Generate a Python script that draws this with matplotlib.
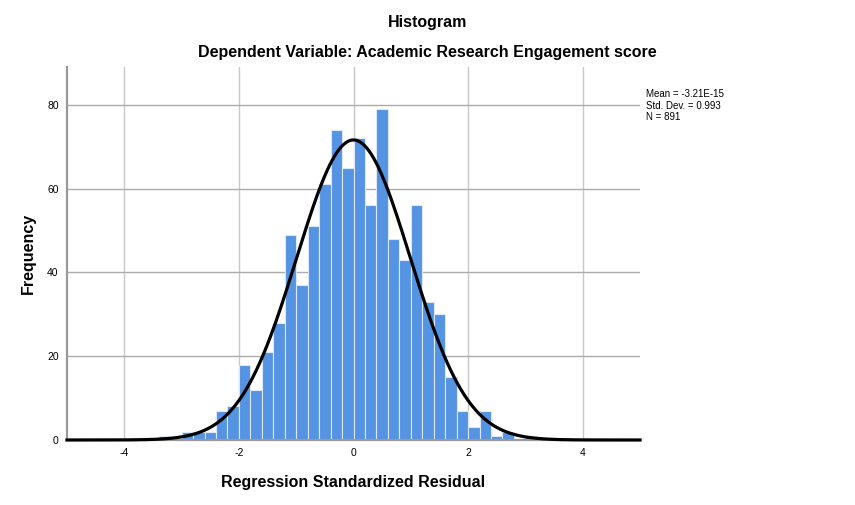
import matplotlib
matplotlib.use('Agg')
import matplotlib.pyplot as plt
import numpy as np

# SPSS-style residual histogram: bins of width 0.2
bin_width = 0.2
bin_left = [-3.4, -3.2, -3.0, -2.8, -2.6, -2.4, -2.2, -2.0, -1.8, -1.6, -1.4,
            -1.2, -1.0, -0.8, -0.6, -0.4, -0.2, 0.0, 0.2, 0.4, 0.6, 0.8, 1.0,
            1.2, 1.4, 1.6, 1.8, 2.0, 2.2, 2.4, 2.6, 2.8, 3.0]
counts = [1, 0, 2, 2, 2, 7, 8, 18, 12, 21, 28,
          49, 37, 51, 61, 74, 65, 72, 56, 79, 48, 43, 56,
          33, 30, 15, 7, 3, 7, 1, 2, 0, 1]

mean = -3.21e-15
std = 0.993
n = 891

x_ticks = [-4, -2, 0, 2, 4]
y_ticks = [0, 20, 40, 60, 80]

plt.rcParams['font.family'] = ['Liberation Sans', 'DejaVu Sans']
plt.rcParams['axes.unicode_minus'] = False

fig = plt.figure(figsize=(8.55, 5.05), dpi=100)
ax = fig.add_axes([67 / 855, 1 - 440 / 505, (640 - 67) / 855, (440 - 67) / 505])

ax.bar(bin_left, counts, width=bin_width, align='edge', color='#5593e3',
       edgecolor='#dce8f8', linewidth=0.8, zorder=2)

# fitted normal curve scaled to counts
xs = np.linspace(-5, 5, 500)
ys = n * bin_width / (std * np.sqrt(2 * np.pi)) * np.exp(-0.5 * ((xs - mean) / std) ** 2)
ax.plot(xs, ys, color='black', linewidth=2.3, zorder=3, clip_on=False)

ax.set_xlim(-5, 5)
ax.set_ylim(0, 89)
ax.set_xticks(x_ticks)
ax.set_yticks(y_ticks)
ax.tick_params(length=0, labelsize=7.5, pad=6)

ax.grid(False)
for xt in x_ticks:
    ax.axvline(xt, color='#c8c8c8', linewidth=1, zorder=1)
for yt in y_ticks[1:]:
    ax.axhline(yt, color='#ababab', linewidth=1, zorder=1)

for side in ['top', 'right']:
    ax.spines[side].set_visible(False)
ax.spines['left'].set_color('#999999')
ax.spines['left'].set_linewidth(1.6)
ax.spines['bottom'].set_color('#999999')
ax.spines['bottom'].set_linewidth(1.6)

ax.set_xlabel('Regression Standardized Residual', fontsize=11.5, fontweight='bold', labelpad=12)
ax.set_ylabel('Frequency', fontsize=11.5, fontweight='bold', labelpad=8)

fig.text(0.5, 1 - 23 / 505, 'Histogram', ha='center', va='center',
         fontsize=11.5, fontweight='bold')
fig.text(0.5, 1 - 53 / 505, 'Dependent Variable: Academic Research Engagement score',
         ha='center', va='center', fontsize=11.5, fontweight='bold')

stats_text = 'Mean = -3.21E-15\nStd. Dev. = 0.993\nN = 891'
fig.text(646 / 855, 1 - 89 / 505, stats_text, ha='left', va='top', fontsize=7,
         linespacing=1.2)

fig.savefig('out.png', dpi=100)
